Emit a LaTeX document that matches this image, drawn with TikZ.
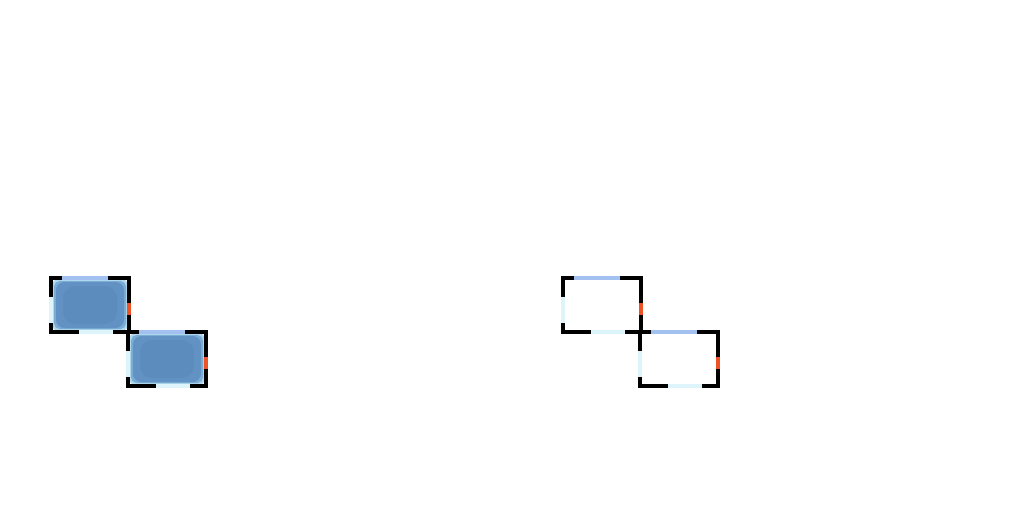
\documentclass[tikz,border=0pt]{standalone}
\usepackage{xcolor}
\usepackage{tikz}
\definecolor{AzulBorde}{RGB}{162,192,240}
\definecolor{RojoBorde}{RGB}{240,82,40}
\definecolor{CianBorde}{RGB}{220,244,250}
\definecolor{HaloClaro}{RGB}{175,215,238}
\definecolor{HaloMedio}{RGB}{122,172,212}
\definecolor{AzulRelleno}{RGB}{98,146,196}
\definecolor{AzulCentro}{RGB}{92,140,190}

\begin{document}
\begin{tikzpicture}[x=0.25mm, y=-0.25mm, line width=3pt, line join=miter]
    \useasboundingbox (0,0) rectangle (1024,512);

    % relleno difuso de las celdas de la izquierda
    \foreach \ox/\oy in {51/278, 128/332} {
        \begin{scope}[shift={(\ox,\oy)}]
            \fill[HaloClaro, rounded corners=2pt] (2,2) rectangle (76,52);
            \fill[HaloMedio, rounded corners=4pt] (3,3) rectangle (75,51);
            \fill[AzulRelleno, rounded corners=6pt] (5,4) rectangle (73,50);
            \fill[AzulCentro, rounded corners=9pt] (12,8) rectangle (66,46);
        \end{scope}
    }

    % marcos con tramos de color
    \foreach \ox/\oy in {51/278, 128/332, 563/278, 640/332} {
        \begin{scope}[shift={(\ox,\oy)}]
            \coordinate (NO) at (0,0);
            \coordinate (SE) at (78,54);
            \draw (NO) rectangle (SE);
            \draw[AzulBorde] (11,0) -- (57,0);
            \draw[RojoBorde] (78,25) -- (78,37);
            \draw[CianBorde] (28,54) -- (62,54);
            \draw[CianBorde] (0,19) -- (0,45);
        \end{scope}
    }
\end{tikzpicture}
\end{document}
